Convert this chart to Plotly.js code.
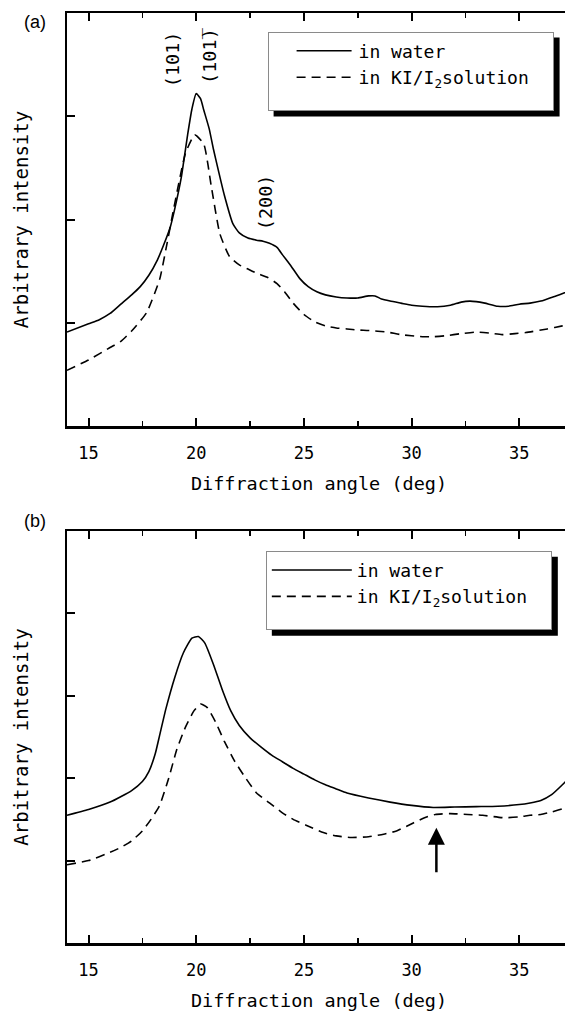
<!DOCTYPE html>
<html>
<head>
<meta charset="utf-8">
<script src="https://cdn.plot.ly/plotly-3.0.1.min.js"></script>
<style>
html,body{margin:0;padding:0;overflow:hidden;background:#fff;}
#chart{width:578px;height:1013px;}
</style>
</head>
<body>
<div id="chart"></div>
<script>
// ---------- data ----------
// panel (a)
const angleWaterA = [14.0,15.0,15.5,16.0,16.5,17.0,17.4,17.8,18.2,18.5,18.8,19.0,19.3,19.6,19.8,20.0,20.2,20.35,20.6,20.8,21.0,21.3,21.7,22.0,22.4,22.8,23.1,23.4,23.75,24.0,24.4,24.8,25.2,25.6,26.0,26.5,27.0,27.5,28.0,28.3,28.6,29.0,29.5,30.0,30.5,31.2,31.8,32.3,32.7,33.0,33.4,34.0,34.5,35.0,35.5,36.0,36.7,37.1,37.5];
const waterA = [0.91,0.99,1.03,1.09,1.18,1.27,1.35,1.46,1.61,1.76,1.93,2.10,2.40,2.82,3.07,3.22,3.17,3.06,2.88,2.68,2.50,2.24,1.96,1.87,1.82,1.80,1.79,1.77,1.73,1.66,1.55,1.43,1.35,1.30,1.27,1.25,1.24,1.24,1.26,1.26,1.23,1.21,1.19,1.17,1.16,1.155,1.17,1.20,1.21,1.205,1.19,1.16,1.16,1.18,1.19,1.21,1.26,1.29,1.32];
const angleKIA = [14.0,15.0,16.0,16.5,17.0,17.7,18.3,18.6,18.95,19.5,19.93,20.35,20.7,21.1,21.55,22.0,22.4,22.8,23.3,23.75,24.1,24.5,25.0,25.5,26.0,26.5,27.0,27.5,28.0,28.85,29.5,30.5,31.0,31.6,32.3,33.0,33.6,34.2,34.8,35.3,36.3,37.0,37.5];
const kiA = [0.54,0.64,0.76,0.82,0.92,1.10,1.42,1.72,2.10,2.64,2.82,2.73,2.32,1.86,1.64,1.56,1.52,1.48,1.44,1.38,1.30,1.19,1.08,1.01,0.97,0.95,0.94,0.93,0.925,0.91,0.885,0.865,0.865,0.875,0.895,0.91,0.90,0.885,0.895,0.905,0.94,0.97,0.99];
// panel (b)
const angleWaterB = [14.0,15.0,16.0,17.0,17.5,17.8,18.1,18.3,18.6,19.0,19.4,19.8,20.1,20.4,20.8,21.2,21.6,22.0,22.5,23.0,23.5,24.0,24.5,25.0,25.5,26.0,26.5,27.0,28.0,29.0,30.0,31.0,32.0,33.0,34.0,35.0,35.5,36.0,36.5,37.0,37.4];
const waterB = [1.55,1.62,1.71,1.85,1.96,2.08,2.30,2.52,2.85,3.22,3.52,3.70,3.72,3.64,3.38,3.08,2.82,2.64,2.49,2.38,2.28,2.20,2.12,2.05,1.98,1.92,1.87,1.82,1.76,1.71,1.67,1.645,1.65,1.655,1.66,1.68,1.70,1.73,1.80,1.92,2.03];
const angleKIB = [14.0,15.0,16.0,16.5,17.0,17.5,17.9,18.3,18.7,19.1,19.5,19.9,20.2,20.5,20.9,21.3,21.8,22.3,22.8,23.4,24.0,24.5,25.1,25.9,26.5,27.2,28.0,28.7,29.3,30.1,30.6,31.1,31.8,32.6,33.3,34.3,35.0,35.5,36.0,36.5,37.0,37.4];
const kiB = [0.95,1.00,1.10,1.16,1.24,1.36,1.50,1.67,1.98,2.35,2.62,2.82,2.90,2.86,2.68,2.45,2.20,2.00,1.82,1.70,1.58,1.50,1.43,1.34,1.30,1.28,1.29,1.32,1.36,1.46,1.52,1.56,1.57,1.56,1.55,1.52,1.53,1.55,1.56,1.59,1.63,1.67];

const seriesNames = ['in water', 'in KI/I<sub>2</sub>solution'];
const peakLabels = ['(101)', '(101\u0305)', '(200)'];
const peakX = [18.91, 20.62, 23.25];
const peakY = [3.55, 3.59, 2.17];
const arrowAngle = 31.15, arrowLevel = 1.40;
const panelLabels = ['(a)', '(b)'];
const xTitle = 'Diffraction angle (deg)';
const yTitle = 'Arbitrary intensity';

// ---------- chart ----------
const MONO = '"DejaVu Sans Mono","Liberation Mono",monospace';
const SANS = '"Liberation Sans",Arial,sans-serif';
const solid = {color:'black', width:1.6, shape:'spline', smoothing:0.5};
const dashed = {color:'black', width:1.6, dash:'9px,6px', shape:'spline', smoothing:0.5};

const data = [
  {x:angleWaterA, y:waterA, xaxis:'x', yaxis:'y', mode:'lines', line:solid, name:seriesNames[0], legend:'legend'},
  {x:angleKIA, y:kiA, xaxis:'x', yaxis:'y', mode:'lines', line:dashed, name:seriesNames[1], legend:'legend'},
  {x:angleWaterB, y:waterB, xaxis:'x2', yaxis:'y2', mode:'lines', line:solid, name:seriesNames[0], legend:'legend2'},
  {x:angleKIB, y:kiB, xaxis:'x2', yaxis:'y2', mode:'lines', line:dashed, name:seriesNames[1], legend:'legend2'}
];

function xAxis(anchor){
  return {anchor:anchor, domain:[0,1], range:[14,37.4], tick0:0, dtick:5,
    ticks:'inside', ticklen:8, tickwidth:2, tickcolor:'black',
    showline:true, linewidth:2.5, linecolor:'black', mirror:'ticks',
    showgrid:false, zeroline:false, ticklabelstandoff:10,
    tickfont:{size:17, family:MONO},
    minor:{dtick:2.5, ticks:'inside', ticklen:5, tickwidth:1.5, tickcolor:'black', showgrid:false},
    title:{text:xTitle, font:{size:18.5, family:MONO}, standoff:15}};
}
function yAxis(anchor, domain, top){
  return {anchor:anchor, domain:domain, range:[0,top], tick0:0, dtick:1,
    ticks:'inside', ticklen:8, tickwidth:2, tickcolor:'black',
    showline:true, linewidth:2.5, linecolor:'black', mirror:false,
    showgrid:false, zeroline:false, showticklabels:false,
    title:{text:yTitle, font:{size:19, family:MONO}, standoff:31}};
}
function legendCfg(x, y){
  return {x:x, y:y, xref:'paper', yref:'paper', xanchor:'left', yanchor:'top',
    bgcolor:'white', bordercolor:'#8a8a8a', borderwidth:1,
    font:{size:18, color:'black', family:MONO}, itemwidth:80, tracegroupgap:0};
}

const layout = {
  width:578, height:1013,
  margin:{l:67, r:7, t:13, b:70},
  paper_bgcolor:'white', plot_bgcolor:'white',
  font:{family:MONO, size:17, color:'black'},
  showlegend:true,
  xaxis:xAxis('y'), yaxis:yAxis('x',[0.5559,1],4),
  xaxis2:xAxis('y2'), yaxis2:yAxis('x2',[0,0.4430],5),
  legend:legendCfg(0.398,0.980),
  legend2:legendCfg(0.3945,0.4218),
  annotations:[
    {xref:'x', yref:'y', x:peakX[0], y:peakY[0], text:peakLabels[0], textangle:-90, showarrow:false, font:{size:18.5, family:MONO}},
    {xref:'x', yref:'y', x:peakX[1], y:peakY[1], text:peakLabels[1], textangle:-90, showarrow:false, font:{size:18.5, family:MONO}},
    {xref:'x', yref:'y', x:peakX[2], y:peakY[2], text:peakLabels[2], textangle:-90, showarrow:false, font:{size:18.5, family:MONO}},
    {xref:'x2', yref:'y2', x:arrowAngle, y:arrowLevel, ax:0, ay:46, text:'', showarrow:true,
      arrowhead:2, arrowwidth:2.5, arrowsize:1.36, arrowcolor:'black'},
    {xref:'paper', yref:'paper', x:-0.089, y:0.9903, xanchor:'left', yanchor:'middle', text:panelLabels[0], showarrow:false, font:{size:18, family:SANS}},
    {xref:'paper', yref:'paper', x:-0.089, y:0.4538, xanchor:'left', yanchor:'middle', text:panelLabels[1], showarrow:false, font:{size:18, family:SANS}}
  ]
};

const BOX_W = 286, BOX_H = 79, SH = 5.5;
const gd = document.getElementById('chart');
function patchLegends(){
  ['legend','legend2'].forEach(function(id){
    const g = gd.querySelector('g.' + id);
    if(!g) return;
    const bg = g.querySelector('rect.bg');
    if(bg){ bg.setAttribute('width', BOX_W - 1); bg.setAttribute('height', BOX_H - 1); }
    g.querySelectorAll('g.traces').forEach(function(tr){
      const t = tr.querySelector('text.legendtext');
      const p = tr.querySelector('.legendlines path');
      if(!t || !p) return;
      const tx = parseFloat(t.getAttribute('x')) || 90;
      p.setAttribute('d', 'M' + (tx - 62) + ',0h55');
    });
  });
}
Plotly.newPlot(gd, data, layout, {displayModeBar:false, staticPlot:true}).then(function(){
  const s = gd._fullLayout._size;
  const gr = gd.getBoundingClientRect();
  const shapes = [];
  ['legend','legend2'].forEach(function(id){
    const bg = gd.querySelector('g.' + id + ' rect.bg');
    if(!bg) return;
    const r = bg.getBoundingClientRect();
    const x0 = r.left - gr.left + SH, y0 = r.top - gr.top + SH;
    const x1 = x0 + BOX_W, y1 = y0 + BOX_H;
    shapes.push({type:'rect', xref:'paper', yref:'paper', layer:'above',
      x0:(x0 - s.l)/s.w, x1:(x1 - s.l)/s.w,
      y0:1 - (y1 - s.t)/s.h, y1:1 - (y0 - s.t)/s.h,
      fillcolor:'black', line:{width:0}});
  });
  return Plotly.relayout(gd, {shapes:shapes});
}).then(patchLegends);
</script>
</body>
</html>
